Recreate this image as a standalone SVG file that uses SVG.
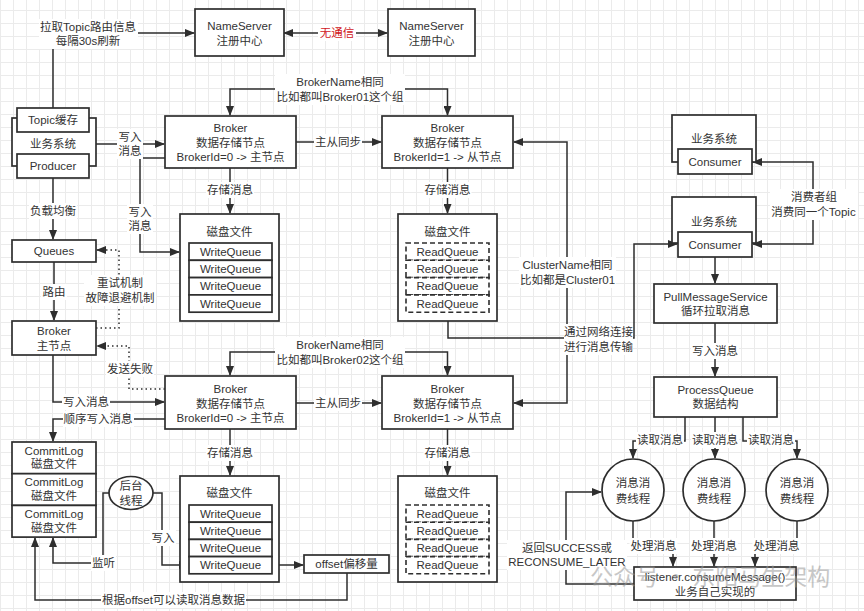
<svg xmlns="http://www.w3.org/2000/svg" width="864" height="611" viewBox="0 0 864 611">
<defs>
<pattern id="grid" width="13" height="13" patternUnits="userSpaceOnUse" x="0" y="10">
<path d="M0,0.5 H13 M0.5,0 V13" fill="none" stroke="#ebebeb" stroke-width="1"/>
</pattern>
<marker id="ar" markerUnits="userSpaceOnUse" markerWidth="10" markerHeight="8" refX="9" refY="4" orient="auto-start-reverse" viewBox="0 0 10 8">
<path d="M0,0 L10,4 L0,8 z" fill="#2e2e2e"/>
</marker>
<style>
.box{fill:#fff;stroke:#2e2e2e;stroke-width:1.7}
.dash{fill:#fff;stroke:#2e2e2e;stroke-width:1.6;stroke-dasharray:5,3}
.t{font-family:"Liberation Sans","Noto Sans CJK SC",sans-serif;font-size:11.5px;fill:#333;text-anchor:middle;dominant-baseline:central}
.red{fill:#d0161b}
.ln{fill:none;stroke:#2e2e2e;stroke-width:1.5}
.arr{marker-end:url(#ar)}
.dot{stroke-dasharray:1.5,3}
.bg{fill:#fff}
.wm{font-family:"Noto Sans CJK SC",sans-serif;font-size:23px;fill:#9a9a9a;opacity:0.55}
</style>
</defs>
<rect width="864" height="611" fill="#fff"/>
<rect width="864" height="611" fill="url(#grid)"/>

<g id="connectors">
<path class="ln arr" d="M53,108 V33 H194"/>
<path class="ln arr" d="M284,33 H387" style="marker-start:url(#ar)"/>
<path class="ln arr" d="M96,144 H164"/>
<path class="ln arr" d="M340,89 H230 V115"/>
<path class="ln arr" d="M340,89 H447.5 V115"/>
<path class="ln arr" d="M296,142 H381"/>
<path class="ln arr" d="M230,168 V213"/>
<path class="ln arr" d="M447.5,168 V213"/>
<path class="ln arr" d="M165,158 H140 V252 H179"/>
<path class="ln arr" d="M53,178 V239"/>
<path class="ln arr" d="M54,262 V320"/>
<path class="ln arr dot" d="M96,328 H119 V250 H97"/>
<path class="ln arr dot" d="M165,389 H129 V346 H97"/>
<path class="ln arr" d="M53,355 V402 H164"/>
<path class="ln arr" d="M165,419 H53 V441"/>
<path class="ln arr" d="M340,352 H230 V375"/>
<path class="ln arr" d="M340,352 H447.5 V375"/>
<path class="ln arr" d="M296,403 H381"/>
<path class="ln arr" d="M230,429 V475"/>
<path class="ln arr" d="M447.5,429 V475"/>
<path class="ln arr" d="M109,493 H103 V563 H53 V538"/>
<path class="ln arr" d="M153,493 H162 V565 H188"/>
<path class="ln arr" d="M272,565 H303"/>
<path class="ln arr" d="M347,573 V600 H35 V538"/>
<path class="ln arr" d="M514,142 H567 V403 H514" style="marker-start:url(#ar)"/>
<path class="ln arr" d="M448,312 V338 H634 V244 H677"/>
<path class="ln arr" d="M813,204 V162 H753"/>
<path class="ln arr" d="M813,204 V244 H753"/>
<path class="ln arr" d="M715,257 V283"/>
<path class="ln arr" d="M715,323 V376"/>
<path class="ln arr" d="M685,417 V441 H633 V458"/>
<path class="ln arr" d="M715,417 V458"/>
<path class="ln arr" d="M743,417 V441 H797 V458"/>
<path class="ln arr" d="M633,521 V546 H673 V566"/>
<path class="ln arr" d="M714,521 V566"/>
<path class="ln arr" d="M797,521 V546 H755 V566"/>
<path class="ln arr" d="M634,584 H566 V492 H601"/>

<rect class="bg" x="39" y="19" width="99" height="30"/>
<text class="t" x="88" y="27">拉取Topic路由信息</text>
<text class="t" x="88" y="41">每隔30s刷新</text>
<rect class="bg" x="318" y="25" width="38" height="16"/>
<text class="t red" x="337" y="33">无通信</text>
<rect class="bg" x="117" y="129" width="26" height="30"/>
<text class="t" x="130" y="137">写入</text>
<text class="t" x="130" y="151">消息</text>
<rect class="bg" x="275" y="74" width="130" height="31"/>
<text class="t" x="340" y="82">BrokerName相同</text>
<text class="t" x="340" y="97">比如都叫Broker01这个组</text>
<rect class="bg" x="314" y="134" width="48" height="16"/>
<text class="t" x="338" y="142">主从同步</text>
<rect class="bg" x="206" y="182" width="48" height="16"/>
<text class="t" x="230" y="190">存储消息</text>
<rect class="bg" x="423.5" y="182" width="48" height="16"/>
<text class="t" x="447.5" y="190">存储消息</text>
<rect class="bg" x="127" y="204" width="26" height="30"/>
<text class="t" x="140" y="212">写入</text>
<text class="t" x="140" y="226">消息</text>
<rect class="bg" x="29" y="203" width="48" height="16"/>
<text class="t" x="53" y="211">负载均衡</text>
<rect class="bg" x="41" y="284" width="26" height="16"/>
<text class="t" x="54" y="292">路由</text>
<rect class="bg" x="84" y="275" width="72" height="31"/>
<text class="t" x="120" y="283">重试机制</text>
<text class="t" x="120" y="298">故障退避机制</text>
<rect class="bg" x="106" y="361" width="48" height="16"/>
<text class="t" x="130" y="369">发送失败</text>
<rect class="bg" x="62" y="394" width="48" height="16"/>
<text class="t" x="86" y="402">写入消息</text>
<rect class="bg" x="63" y="411" width="71" height="16"/>
<text class="t" x="98" y="419">顺序写入消息</text>
<rect class="bg" x="275" y="337" width="130" height="31"/>
<text class="t" x="340" y="345">BrokerName相同</text>
<text class="t" x="340" y="360">比如都叫Broker02这个组</text>
<rect class="bg" x="314" y="395" width="48" height="16"/>
<text class="t" x="338" y="403">主从同步</text>
<rect class="bg" x="206" y="445" width="48" height="16"/>
<text class="t" x="230" y="453">存储消息</text>
<rect class="bg" x="423.5" y="445" width="48" height="16"/>
<text class="t" x="447.5" y="453">存储消息</text>
<rect class="bg" x="91" y="555" width="25" height="16"/>
<text class="t" x="103.5" y="563">监听</text>
<rect class="bg" x="150" y="530" width="26" height="16"/>
<text class="t" x="163" y="538">写入</text>
<rect class="bg" x="101" y="592" width="145" height="16"/>
<text class="t" x="173.5" y="600">根据offset可以读取消息数据</text>
<rect class="bg" x="519" y="257" width="97" height="31"/>
<text class="t" x="567.5" y="265">ClusterName相同</text>
<text class="t" x="567.5" y="280">比如都是Cluster01</text>
<rect class="bg" x="564" y="324" width="69" height="31"/>
<text class="t" x="598.5" y="332">通过网络连接</text>
<text class="t" x="598.5" y="347">进行消息传输</text>
<rect class="bg" x="770" y="189" width="88" height="31"/>
<text class="t" x="814" y="197">消费者组</text>
<text class="t" x="813.5" y="212">消费同一个Topic</text>
<rect class="bg" x="691" y="343" width="48" height="16"/>
<text class="t" x="715" y="351">写入消息</text>
<rect class="bg" x="636" y="432" width="48" height="16"/>
<text class="t" x="660" y="440">读取消息</text>
<rect class="bg" x="691" y="432" width="48" height="16"/>
<text class="t" x="715" y="440">读取消息</text>
<rect class="bg" x="747" y="432" width="48" height="16"/>
<text class="t" x="771" y="440">读取消息</text>
<rect class="bg" x="629.5" y="538" width="48" height="16"/>
<text class="t" x="653.5" y="546">处理消息</text>
<rect class="bg" x="690" y="538" width="48" height="16"/>
<text class="t" x="714" y="546">处理消息</text>
<rect class="bg" x="752.5" y="538" width="48" height="16"/>
<text class="t" x="776.5" y="546">处理消息</text>
<rect class="bg" x="507" y="540" width="120" height="30"/>
<text class="t" x="567" y="548">返回SUCCESS或</text>
<text class="t" x="567" y="562">RECONSUME_LATER</text>
</g>

<g id="nameserver1">
<rect class="box" x="195" y="9" width="89" height="47"/>
<text class="t" x="239.5" y="26">NameServer</text>
<text class="t" x="239.5" y="41">注册中心</text>
</g>
<g id="nameserver2">
<rect class="box" x="388" y="9" width="87" height="47"/>
<text class="t" x="431.5" y="26">NameServer</text>
<text class="t" x="431.5" y="41">注册中心</text>
</g>
<g id="producer-system">
<rect class="box" x="12" y="118" width="84" height="48"/>
<rect class="box" x="17" y="108" width="72" height="24"/>
<text class="t" x="53" y="120">Topic缓存</text>
<text class="t" x="53" y="144">业务系统</text>
<rect class="box" x="17" y="154" width="72" height="24"/>
<text class="t" x="53" y="166">Producer</text>
</g>
<g id="broker01-master">
<rect class="box" x="165" y="116" width="131" height="52"/>
<text class="t" x="230.5" y="128">Broker</text>
<text class="t" x="230.5" y="142.5">数据存储节点</text>
<text class="t" x="230.5" y="157">BrokerId=0 -&gt; 主节点</text>
</g>
<g id="broker01-slave">
<rect class="box" x="382" y="116" width="131" height="52"/>
<text class="t" x="447.5" y="128">Broker</text>
<text class="t" x="447.5" y="142.5">数据存储节点</text>
<text class="t" x="447.5" y="157">BrokerId=1 -&gt; 从节点</text>
</g>
<g id="disk1">
<rect class="box" x="180" y="214" width="99" height="107"/>
<text class="t" x="229.5" y="232">磁盘文件</text>
<rect class="box" x="189" y="243" width="83" height="17.3"/>
<text class="t" x="230.5" y="251.7">WriteQueue</text>
<rect class="box" x="189" y="260.3" width="83" height="17.3"/>
<text class="t" x="230.5" y="269">WriteQueue</text>
<rect class="box" x="189" y="277.6" width="83" height="17.3"/>
<text class="t" x="230.5" y="286.3">WriteQueue</text>
<rect class="box" x="189" y="294.9" width="83" height="17.3"/>
<text class="t" x="230.5" y="303.6">WriteQueue</text>
</g>
<g id="disk2">
<rect class="box" x="398" y="214" width="99" height="107"/>
<text class="t" x="447.5" y="232">磁盘文件</text>
<rect class="dash" x="406" y="243" width="83" height="17.3"/>
<text class="t" x="447.5" y="251.7">ReadQueue</text>
<rect class="dash" x="406" y="260.3" width="83" height="17.3"/>
<text class="t" x="447.5" y="269">ReadQueue</text>
<rect class="dash" x="406" y="277.6" width="83" height="17.3"/>
<text class="t" x="447.5" y="286.3">ReadQueue</text>
<rect class="dash" x="406" y="294.9" width="83" height="17.3"/>
<text class="t" x="447.5" y="303.6">ReadQueue</text>
</g>
<g id="queues">
<rect class="box" x="12" y="240" width="84" height="22"/>
<text class="t" x="54" y="251">Queues</text>
</g>
<g id="broker-master-node">
<rect class="box" x="12" y="321" width="84" height="34"/>
<text class="t" x="54" y="331">Broker</text>
<text class="t" x="54" y="346">主节点</text>
</g>
<g id="broker02-master">
<rect class="box" x="165" y="376" width="131" height="53"/>
<text class="t" x="230.5" y="389">Broker</text>
<text class="t" x="230.5" y="403.5">数据存储节点</text>
<text class="t" x="230.5" y="418">BrokerId=0 -&gt; 主节点</text>
</g>
<g id="broker02-slave">
<rect class="box" x="382" y="376" width="131" height="53"/>
<text class="t" x="447.5" y="389">Broker</text>
<text class="t" x="447.5" y="403.5">数据存储节点</text>
<text class="t" x="447.5" y="418">BrokerId=1 -&gt; 从节点</text>
</g>
<g id="commitlog">
<rect class="box" x="12" y="442" width="84" height="31.7"/>
<text class="t" x="54" y="450.5">CommitLog</text>
<text class="t" x="54" y="464">磁盘文件</text>
<rect class="box" x="12" y="473.7" width="84" height="31.7"/>
<text class="t" x="54" y="482">CommitLog</text>
<text class="t" x="54" y="496">磁盘文件</text>
<rect class="box" x="12" y="505.4" width="84" height="31.7"/>
<text class="t" x="54" y="514">CommitLog</text>
<text class="t" x="54" y="528">磁盘文件</text>
</g>
<g id="backend-thread">
<ellipse class="box" cx="131" cy="493" rx="22" ry="16.5"/>
<text class="t" x="131" y="485.5">后台</text>
<text class="t" x="131" y="500.5">线程</text>
</g>
<g id="disk3">
<rect class="box" x="180" y="476" width="99" height="106"/>
<text class="t" x="229.5" y="493">磁盘文件</text>
<rect class="box" x="189" y="505" width="83" height="17.2"/>
<text class="t" x="230.5" y="513.6">WriteQueue</text>
<rect class="box" x="189" y="522.2" width="83" height="17.2"/>
<text class="t" x="230.5" y="530.8">WriteQueue</text>
<rect class="box" x="189" y="539.4" width="83" height="17.2"/>
<text class="t" x="230.5" y="548">WriteQueue</text>
<rect class="box" x="189" y="556.6" width="83" height="17.2"/>
<text class="t" x="230.5" y="565.2">WriteQueue</text>
</g>
<g id="offset">
<rect class="box" x="304" y="555" width="85" height="18"/>
<text class="t" x="346.5" y="564">offset偏移量</text>
</g>
<g id="disk4">
<rect class="box" x="398" y="476" width="99" height="106"/>
<text class="t" x="447.5" y="493">磁盘文件</text>
<rect class="dash" x="406" y="505" width="83" height="17.2"/>
<text class="t" x="447.5" y="513.6">ReadQueue</text>
<rect class="dash" x="406" y="522.2" width="83" height="17.2"/>
<text class="t" x="447.5" y="530.8">ReadQueue</text>
<rect class="dash" x="406" y="539.4" width="83" height="17.2"/>
<text class="t" x="447.5" y="548">ReadQueue</text>
<rect class="dash" x="406" y="556.6" width="83" height="17.2"/>
<text class="t" x="447.5" y="565.2">ReadQueue</text>
</g>
<g id="consumer-system1">
<rect class="box" x="672" y="115" width="84" height="47"/>
<text class="t" x="714" y="139">业务系统</text>
<rect class="box" x="678" y="149" width="74" height="25"/>
<text class="t" x="715" y="161.5">Consumer</text>
</g>
<g id="consumer-system2">
<rect class="box" x="672" y="197" width="84" height="46"/>
<text class="t" x="714" y="222">业务系统</text>
<rect class="box" x="678" y="232" width="74" height="25"/>
<text class="t" x="715" y="244.5">Consumer</text>
</g>
<g id="pull-message-service">
<rect class="box" x="654" y="284" width="123" height="39"/>
<text class="t" x="715.5" y="296.5">PullMessageService</text>
<text class="t" x="715.5" y="311">循环拉取消息</text>
</g>
<g id="process-queue">
<rect class="box" x="654" y="377" width="123" height="40"/>
<text class="t" x="715.5" y="389.5">ProcessQueue</text>
<text class="t" x="715.5" y="404">数据结构</text>
</g>
<g id="consume-thread1">
<circle class="box" cx="633" cy="490" r="31"/>
<text class="t" x="633" y="483">消息消</text>
<text class="t" x="633" y="498.5">费线程</text>
</g>
<g id="consume-thread2">
<circle class="box" cx="714" cy="490" r="31"/>
<text class="t" x="714" y="483">消息消</text>
<text class="t" x="714" y="498.5">费线程</text>
</g>
<g id="consume-thread3">
<circle class="box" cx="797" cy="490" r="31"/>
<text class="t" x="797" y="483">消息消</text>
<text class="t" x="797" y="498.5">费线程</text>
</g>
<g id="listener">
<rect class="box" x="634" y="567" width="162" height="33"/>
<text class="t" x="715" y="576.5">listener.consumeMessage()</text>
<text class="t" x="715" y="592">业务自己实现的</text>
</g>
<text class="wm" x="590" y="585">公众号 · 东阳马生架构</text>
</svg>
